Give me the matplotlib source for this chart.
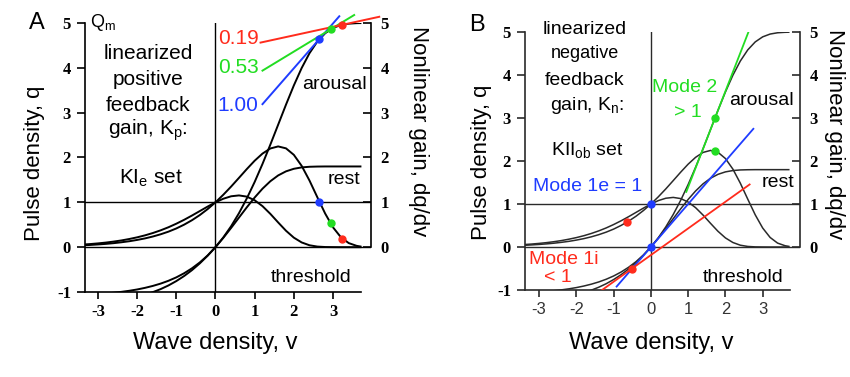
import numpy as np
import matplotlib
matplotlib.use("Agg")
import matplotlib.pyplot as plt

plt.rcParams["font.family"] = ["Liberation Sans", "DejaVu Sans"]
plt.rcParams["mathtext.fontset"] = "custom"
plt.rcParams["mathtext.rm"] = "Liberation Sans"
plt.rcParams["mathtext.it"] = "Liberation Sans"
plt.rcParams["axes.unicode_minus"] = False

# wave density samples and the two sigmoid states (arousal Qm=5, rest Qm=1.8)
v = [-3.4, -3.2, -3.0, -2.8, -2.6, -2.4, -2.2, -2.0, -1.8, -1.6, -1.4, -1.2,
     -1.0, -0.8, -0.6, -0.4, -0.2, 0.0, 0.2, 0.4, 0.6, 0.8, 1.0, 1.2, 1.4,
     1.6, 1.8, 2.0, 2.2, 2.4, 2.6, 2.8, 3.0, 3.2, 3.4, 3.6, 3.7]
q_arousal = [-1.066, -1.058, -1.047, -1.033, -1.017, -0.997, -0.973, -0.944,
             -0.908, -0.865, -0.813, -0.750, -0.674, -0.582, -0.472, -0.341,
             -0.185, 0.0, 0.217, 0.468, 0.758, 1.087, 1.454, 1.856, 2.286,
             2.732, 3.179, 3.607, 3.996, 4.327, 4.587, 4.772, 4.890, 4.955,
             4.985, 4.996, 4.998]
dq_arousal = [0.040, 0.049, 0.060, 0.073, 0.089, 0.109, 0.132, 0.161, 0.195,
              0.237, 0.287, 0.346, 0.417, 0.502, 0.601, 0.716, 0.849, 1.0,
              1.169, 1.352, 1.546, 1.742, 1.928, 2.087, 2.201, 2.247, 2.204,
              2.059, 1.813, 1.485, 1.113, 0.749, 0.442, 0.222, 0.091, 0.030,
              0.015]
q_rest = [-1.280, -1.267, -1.252, -1.233, -1.210, -1.183, -1.150, -1.110,
          -1.062, -1.004, -0.936, -0.854, -0.757, -0.644, -0.513, -0.362,
          -0.191, 0.0, 0.208, 0.430, 0.660, 0.889, 1.107, 1.304, 1.470, 1.600,
          1.691, 1.748, 1.779, 1.793, 1.798, 1.800, 1.800, 1.800, 1.800,
          1.800, 1.800]
dq_rest = [0.057, 0.069, 0.084, 0.102, 0.124, 0.150, 0.182, 0.219, 0.263,
           0.315, 0.375, 0.444, 0.523, 0.610, 0.705, 0.805, 0.905, 1.0, 1.080,
           1.135, 1.154, 1.127, 1.046, 0.915, 0.743, 0.551, 0.366, 0.212,
           0.105, 0.042, 0.013, 0.003, 0.001, 0.0, 0.0, 0.0, 0.0]

# panel A: positive feedback gains, tangent points on the arousal curve
gain_A = [1.00, 0.53, 0.19]
gain_A_labels = ["1.00", "0.53", "0.19"]
touch_v_A = [2.65, 2.94, 3.24]
touch_q_A = [4.64, 4.86, 4.96]
start_v_A = [1.20, 1.20, 1.15]
end_v_A = [3.16, 3.54, 4.18]
label_q_A = [3.17, 4.00, 4.66]

# panel B: negative feedback modes (2, 1e, 1i)
gain_B = [2.23, 1.00, 0.62]
touch_v_B = [1.72, 0.00, -0.52]
touch_q_B = [3.00, 0.00, -0.51]
start_v_B = [0.95, -0.92, -1.31]
end_v_B = [2.62, 2.75, 2.65]
dot_v_B = [1.72, 0.00, -0.64]
dot_dq_B = [2.23, 1.00, 0.58]

BLUE, GREEN, RED = "#1f3cff", "#22dd22", "#ff2b1c"
colors_A = [BLUE, GREEN, RED]
colors_B = [GREEN, BLUE, RED]

serif_bold = dict(family="Liberation Serif", weight="bold", size=12)

fig = plt.figure(figsize=(8.5, 3.77), dpi=100)
axA = fig.add_axes([0.100, 0.2255, 0.3365, 0.7135])
axB = fig.add_axes([0.6176, 0.2308, 0.3235, 0.6840])


def setup(ax, xlim, curve_color, lw, bottom_font):
    ax.set_xlim(*xlim)
    ax.set_ylim(-1, 5)
    for s in ["top", "right"]:
        ax.spines[s].set_visible(False)
    ax.spines["left"].set_bounds(-1, 5)
    ax.spines["bottom"].set_bounds(xlim[0], 3.72)
    for s in ["left", "bottom"]:
        ax.spines[s].set_linewidth(1.2)
        ax.spines[s].set_color(curve_color)
    ax.set_xticks([-3, -2, -1, 0, 1, 2, 3])
    ax.set_yticks([-1, 0, 1, 2, 3, 4, 5])
    ax.tick_params(axis="x", direction="out", length=5, width=1.2, pad=4,
                   color=curve_color)
    ax.tick_params(axis="y", direction="out", length=6, width=1.2, pad=4,
                   color=curve_color)
    for lab in ax.get_yticklabels():
        lab.set_fontproperties(serif_bold)
    for lab in ax.get_xticklabels():
        lab.update(bottom_font)

    # reference lines at q = 0, q = 1 and v = 0
    ax.plot([xlim[0], xlim[1]], [0, 0], color=curve_color, lw=1.0)
    ax.plot([xlim[0], xlim[1]], [1, 1], color=curve_color, lw=1.0)
    ax.plot([0, 0], [-1, 5], color=curve_color, lw=1.0)

    ax.plot(v, q_arousal, color=curve_color, lw=lw)
    ax.plot(v, q_rest, color=curve_color, lw=lw)
    ax.plot(v, dq_arousal, color=curve_color, lw=lw)
    ax.plot(v, dq_rest, color=curve_color, lw=lw)

    right = ax.twinx()
    right.set_ylim(-1, 5)
    for s in ["top", "left", "bottom"]:
        right.spines[s].set_visible(False)
    right.spines["right"].set_bounds(0, 5)
    right.spines["right"].set_linewidth(1.2)
    right.spines["right"].set_color(curve_color)
    right.set_yticks([0, 1, 2, 3, 4, 5])
    right.tick_params(axis="y", direction="in", length=6, width=1.2, pad=7,
                      color=curve_color)
    for lab in right.get_yticklabels():
        lab.set_fontproperties(serif_bold)


setup(axA, (-3.33, 3.97), "black", 1.4, serif_bold)
setup(axB, (-3.38, 4.00), "#2a2a2a", 1.1,
      dict(family="Liberation Sans", size=12, color="#333333"))

# tangent lines, operating points and gain labels, panel A
for k, lab, vt, qt, v0, v1, ql, c in zip(gain_A, gain_A_labels, touch_v_A,
                                         touch_q_A, start_v_A, end_v_A,
                                         label_q_A, colors_A):
    xs = np.array([v0, v1])
    axA.plot(xs, qt + k * (xs - vt), color=c, lw=1.4, clip_on=False, zorder=4)
    axA.plot([vt], [qt], "o", color=c, ms=5, clip_on=False, zorder=5)
    axA.plot([vt], [k], "o", color=c, ms=5, zorder=5)
    axA.text(1.10, ql, lab, color=c, fontsize=15, ha="right", va="center")

# tangent lines and operating points, panel B
for k, vt, qt, v0, v1, vd, dd, c in zip(gain_B, touch_v_B, touch_q_B,
                                        start_v_B, end_v_B, dot_v_B, dot_dq_B,
                                        colors_B):
    xs = np.array([v0, v1])
    axB.plot(xs, qt + k * (xs - vt), color=c, lw=1.3, zorder=4)
    axB.plot([vt], [qt], "o", color=c, ms=5, zorder=5)
    axB.plot([vd], [dd], "o", color=c, ms=5, zorder=5)

# panel A annotations
txt = dict(fontsize=15, ha="center", va="center")
axA.text(-3.2, 5.0, r"Q$_\mathrm{m}$", fontsize=13, ha="left", va="center")
axA.text(-1.72, 4.33, "linearized", **txt)
axA.text(-1.72, 3.73, "positive", **txt)
axA.text(-1.72, 3.17, "feedback", **txt)
axA.text(-1.72, 2.61, r"gain, K$_\mathrm{p}$:", **txt)
axA.text(-1.65, 1.54, r"KI$_\mathrm{e}$ set", **txt)
axA.text(3.03, 3.62, "arousal", fontsize=14, ha="center", va="center")
axA.text(3.28, 1.50, "rest", fontsize=14, ha="center", va="center")
axA.text(2.44, -0.67, "threshold", fontsize=14, ha="center", va="center")

# panel B annotations
axB.text(-1.77, 5.05, "linearized", fontsize=14, ha="center", va="center",
         clip_on=False)
axB.text(-1.77, 4.51, "negative", fontsize=13, ha="center", va="center")
axB.text(-1.77, 3.88, "feedback", fontsize=14, ha="center", va="center")
axB.text(-1.72, 3.30, r"gain, K$_\mathrm{n}$:", fontsize=14, ha="center",
         va="center")
axB.text(-1.70, 2.26, r"KII$_\mathrm{ob}$ set", fontsize=14, ha="center",
         va="center")
axB.text(0.91, 3.72, "Mode 2", color=GREEN, fontsize=14, ha="center",
         va="center")
axB.text(0.99, 3.12, "> 1", color=GREEN, fontsize=14, ha="center",
         va="center")
axB.text(2.98, 3.40, "arousal", fontsize=14, ha="center", va="center")
axB.text(3.40, 1.49, "rest", fontsize=14, ha="center", va="center")
axB.text(-1.69, 1.40, "Mode 1e = 1", color=BLUE, fontsize=14, ha="center",
         va="center")
axB.text(-2.33, -0.30, "Mode 1i", color=RED, fontsize=14, ha="center",
         va="center")
axB.text(-2.50, -0.70, "< 1", color=RED, fontsize=14, ha="center",
         va="center")
axB.text(2.47, -0.72, "threshold", fontsize=14, ha="center", va="center")

# panel letters and axis titles
W, H = 850.0, 377.0
fig.text(37 / W, 1 - 23 / H, "A", fontsize=17, ha="center", va="center")
fig.text(477 / W, 1 - 25 / H, "B", fontsize=17, ha="center", va="center")
fig.text(215 / W, 1 - 343 / H, "Wave density, v", fontsize=17, ha="center",
         va="center")
fig.text(651 / W, 1 - 343 / H, "Wave density, v", fontsize=17, ha="center",
         va="center")
fig.text(35 / W, 1 - 163 / H, "Pulse density, q", fontsize=16, rotation=90,
         ha="center", va="center")
fig.text(482 / W, 1 - 162 / H, "Pulse density, q", fontsize=16, rotation=90,
         ha="center", va="center")
fig.text(418 / W, 1 - 131 / H, "Nonlinear gain, dq/dv", fontsize=16,
         rotation=270, ha="center", va="center")
fig.text(834 / W, 1 - 134 / H, "Nonlinear gain, dq/dv", fontsize=16,
         rotation=270, ha="center", va="center")

fig.savefig("out.png", dpi=100)
